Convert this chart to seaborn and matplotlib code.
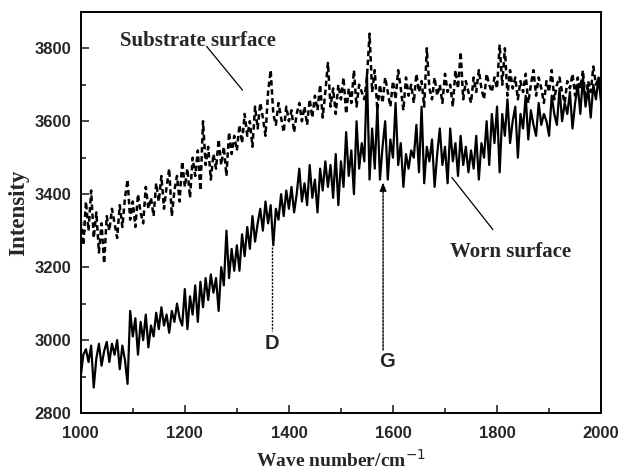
import numpy as np
import pandas as pd
import matplotlib
matplotlib.use("Agg")
import matplotlib.pyplot as plt
import seaborn as sns

wavenumber = list(range(1000, 2001, 5))

worn = [
    2900, 2960, 2975, 2940, 2985, 2870, 2950, 2990, 2930, 2970,
    2995, 2940, 2990, 2960, 3000, 2920, 2985, 2945, 2880, 3080,
    3010, 3060, 2960, 3050, 3000, 3070, 2980, 3040, 3010, 3075,
    3030, 3090, 3040, 3070, 3020, 3080, 3050, 3100, 3060, 3040,
    3140, 3030, 3120, 3070, 3150, 3050, 3160, 3090, 3170, 3110,
    3180, 3130, 3170, 3080, 3200, 3150, 3300, 3170, 3250, 3190,
    3260, 3190, 3290, 3230, 3310, 3250, 3340, 3270, 3320, 3360,
    3300, 3380, 3320, 3370, 3260, 3360, 3330, 3400, 3340, 3410,
    3360, 3420, 3350, 3400, 3470, 3380, 3430, 3370, 3480, 3390,
    3440, 3350, 3470, 3410, 3490, 3420, 3480, 3390, 3510, 3370,
    3490, 3420, 3570, 3450, 3520, 3400, 3600, 3470, 3540, 3490,
    3730, 3440, 3580, 3470, 3640, 3440, 3530, 3600, 3440, 3550,
    3500, 3650, 3480, 3540, 3420, 3510, 3470, 3520, 3500, 3590,
    3460, 3640, 3430, 3530, 3490, 3550, 3420, 3510, 3580, 3480,
    3530, 3430, 3580, 3490, 3540, 3450, 3560, 3480, 3530, 3460,
    3520, 3470, 3560, 3440, 3540, 3500, 3600, 3480, 3620, 3540,
    3640, 3460, 3620, 3560, 3660, 3540, 3600, 3640, 3500, 3620,
    3580, 3670, 3550, 3630, 3590, 3560, 3650, 3590, 3620, 3600,
    3560, 3670, 3620, 3590, 3690, 3600, 3650, 3620, 3680, 3580,
    3650, 3700, 3620, 3720, 3640, 3690, 3610, 3700, 3660, 3720,
    3650,
]

substrate = [
    3330, 3260, 3380, 3300, 3410, 3280, 3350, 3240, 3320, 3210,
    3340, 3300, 3360, 3320, 3280, 3370, 3310, 3390, 3440, 3330,
    3380, 3310, 3400, 3350, 3320, 3420, 3360, 3390, 3340, 3430,
    3380, 3450, 3360, 3420, 3470, 3340, 3410, 3450, 3380, 3490,
    3420, 3470, 3390, 3500, 3450, 3520, 3410, 3600, 3480, 3530,
    3440, 3510, 3470, 3550, 3480, 3530, 3450, 3570, 3510, 3560,
    3520, 3590, 3540, 3620, 3560, 3600, 3530, 3640, 3580, 3650,
    3610, 3560, 3680, 3740, 3620, 3590, 3650, 3610, 3570, 3640,
    3600, 3630, 3570, 3620, 3650, 3600, 3640, 3590, 3660, 3610,
    3670, 3630, 3700, 3610, 3680, 3760, 3640, 3690, 3620, 3700,
    3660, 3720, 3620, 3690, 3650, 3740, 3640, 3700, 3680, 3660,
    3720, 3840, 3680, 3740, 3630, 3700, 3650, 3720, 3680, 3640,
    3710, 3660, 3740, 3690, 3630, 3720, 3670, 3700, 3650, 3730,
    3680, 3710, 3640, 3800, 3690, 3660, 3720, 3670, 3700, 3650,
    3730, 3680, 3700, 3640, 3740, 3690, 3790, 3660, 3710, 3680,
    3650, 3720, 3680, 3740, 3690, 3660, 3730, 3700, 3680, 3720,
    3690, 3810, 3700, 3800, 3670, 3740, 3690, 3720, 3660, 3710,
    3680, 3730, 3650, 3700, 3740, 3670, 3720, 3690, 3650, 3710,
    3680, 3740, 3660, 3700, 3720, 3680, 3650, 3710, 3690, 3730,
    3670, 3720, 3690, 3740, 3660, 3710, 3680, 3750, 3700, 3720,
    3690,
]

x_ticks = [1000, 1200, 1400, 1600, 1800, 2000]
y_ticks = [2800, 3000, 3200, 3400, 3600, 3800]

df_worn = pd.DataFrame({"Wave number": wavenumber, "Intensity": worn})
df_sub = pd.DataFrame({"Wave number": wavenumber, "Intensity": substrate})

sns.set_style("ticks")
plt.rcParams["font.family"] = ["Liberation Sans", "DejaVu Sans"]

fig = plt.figure(figsize=(6.21, 4.71), dpi=100)
ax = fig.add_axes([0.130, 0.123, 0.838, 0.852])

sns.lineplot(data=df_sub, x="Wave number", y="Intensity", ax=ax, color="black",
             linewidth=1.8, linestyle=(0, (2.2, 1.4)), estimator=None)
sns.lineplot(data=df_worn, x="Wave number", y="Intensity", ax=ax, color="black",
             linewidth=1.6, estimator=None)

ax.set_xlim(1000, 2000)
ax.set_ylim(2800, 3900)
ax.set_xticks(x_ticks)
ax.set_yticks(y_ticks)
ax.set_xticklabels([str(v) for v in x_ticks], fontweight="bold")
ax.set_yticklabels([str(v) for v in y_ticks], fontweight="bold")
ax.set_xticks([1100, 1300, 1500, 1700, 1900], minor=True)
ax.set_yticks([2900, 3100, 3300, 3500, 3700], minor=True)
ax.tick_params(axis="both", which="major", direction="in", length=6, width=1.2,
               labelsize=12, top=False, right=False)
ax.tick_params(axis="x", which="major", pad=9)
ax.tick_params(axis="y", which="major", pad=7)
ax.tick_params(axis="both", which="minor", direction="in", length=3.5, width=1.2,
               top=False, right=False)
for s in ax.spines.values():
    s.set_visible(True)
    s.set_linewidth(1.4)
    s.set_color("black")

serif = ["Liberation Serif", "DejaVu Serif"]
ax.set_xlabel("Wave number/cm$^{-1}$", fontsize=14, fontweight="bold", family=serif, labelpad=6)
ax.set_ylabel("Intensity", fontsize=16.5, fontweight="bold", family=serif, labelpad=4)

# annotations
ax.text(1075, 3819, "Substrate surface", fontsize=15, fontweight="bold", family=serif,
        ha="left", va="center")
ax.plot([1242, 1311], [3805, 3685], color="black", linewidth=0.9)
ax.text(1710, 3242, "Worn surface", fontsize=15, fontweight="bold", family=serif,
        ha="left", va="center")
ax.plot([1713, 1792], [3446, 3303], color="black", linewidth=0.9)

ax.plot([1367, 1367], [3256, 3025], color="black", linewidth=1.0, linestyle=(0, (1.5, 1)))
ax.text(1367, 2990, "D", fontsize=14.5, fontweight="bold", ha="center", va="center")
ax.annotate("", xy=(1581, 3440), xytext=(1581, 2965),
            arrowprops=dict(arrowstyle="-|>,head_length=0.5,head_width=0.2", color="black",
                            linewidth=1.0, linestyle=(0, (1.5, 1))))
ax.text(1588, 2940, "G", fontsize=14.5, fontweight="bold", ha="center", va="center")

fig.savefig("out.png", dpi=100)
